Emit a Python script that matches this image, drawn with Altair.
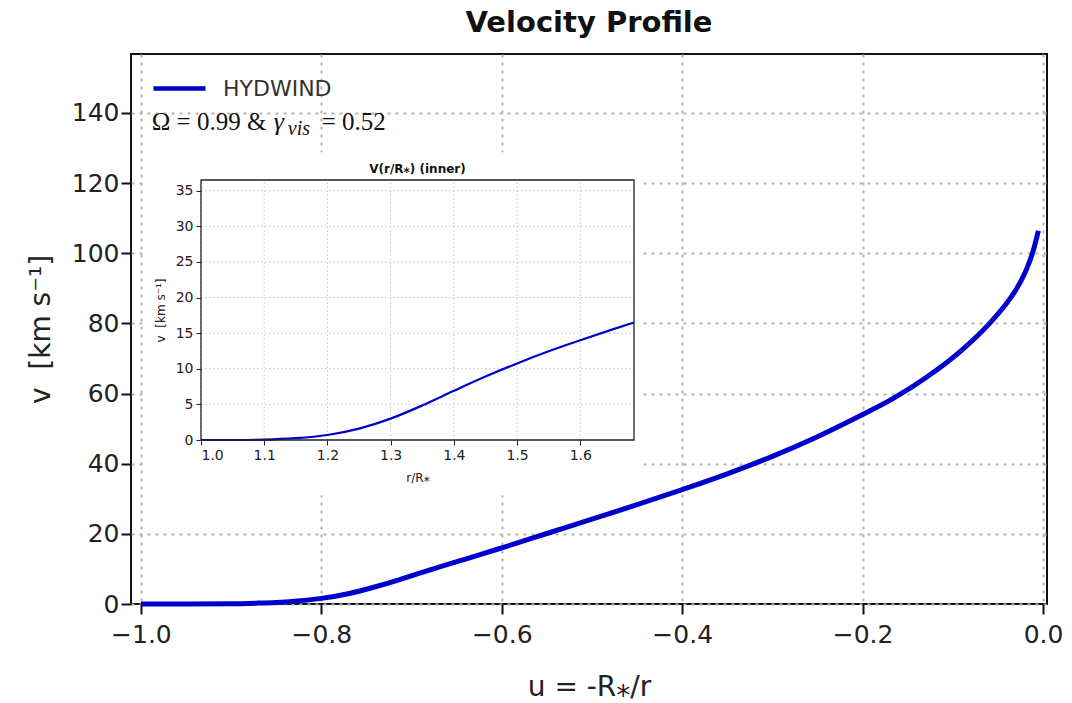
import altair as alt
import pandas as pd

# ---------------- data ----------------
series_name = "HYDWIND"

u_main = [-1.0, -0.95, -0.9, -0.87, -0.85, -0.833, -0.8, -0.769, -0.741, -0.714,
          -0.69, -0.667, -0.645, -0.625, -0.6, -0.55, -0.5, -0.45, -0.4, -0.35,
          -0.3, -0.25, -0.2, -0.166, -0.13, -0.09, -0.06, -0.037, -0.027, -0.018,
          -0.011, -0.0052]
v_main = [0.0, 0.0, 0.05, 0.25, 0.45, 0.7, 1.6, 3.0, 4.85, 6.9,
          8.9, 10.75, 12.45, 14.0, 16.0, 20.1, 24.2, 28.3, 32.6, 37.1,
          42.1, 47.7, 54.0, 58.6, 64.5, 72.4, 79.8, 86.9, 90.9, 95.6,
          100.6, 106.4]

r_inner = [1.0, 1.05, 1.1, 1.15, 1.2, 1.25, 1.3, 1.35, 1.4, 1.45, 1.5, 1.55, 1.6, 1.65, 1.685]
v_inner = [0.0, 0.0, 0.05, 0.25, 0.7, 1.6, 3.0, 4.85, 6.9, 8.9, 10.75, 12.45, 14.0, 15.5, 16.5]

main_x_domain = [-1.011, 0.0044]
main_y_domain = [0, 156.8]
main_x_ticks = [-1.0, -0.8, -0.6, -0.4, -0.2, 0.0]
main_y_ticks = [0, 20, 40, 60, 80, 100, 120, 140]

inset_x_domain = [1.0, 1.685]
inset_y_domain = [0, 36.5]
inset_x_ticks = [1.0, 1.1, 1.2, 1.3, 1.4, 1.5, 1.6]
inset_y_ticks = [0, 5, 10, 15, 20, 25, 30, 35]
# white panel behind the inset (covers its labels), in inset data units
inset_panel_x = [0.908, 1.697]
inset_panel_y = [-7.8, 40.4]

title_text = "Velocity Profile"
x_title = "u = -R⁎/r"
y_title = "v\u00a0\u00a0[km s⁻¹]"
inset_title = "V(r/R⁎) (inner)"
inset_x_title = "r/R⁎"
inset_y_title = "v\u00a0\u00a0[km s⁻¹]"
ann_pos = (-0.988, 135.2)

# ---------------- layout ----------------
W, H = 916, 550
INSET_RANGE_X = [70, 503]
INSET_RANGE_Y = [386, 126]
BLUE = "#0000cd"
SANS = "DejaVu Sans"
SERIF = "Liberation Serif"


def mxs():
    return alt.Scale(domain=main_x_domain, nice=False, zero=False)


def mys():
    return alt.Scale(domain=main_y_domain, nice=False, zero=False)


def ixs():
    return alt.Scale(domain=inset_x_domain, nice=False, zero=False, range=INSET_RANGE_X)


def iys():
    return alt.Scale(domain=inset_y_domain, nice=False, zero=False, range=INSET_RANGE_Y)


# ---------------- main panel ----------------
main_df = pd.DataFrame({"u": u_main, "v": v_main, "series": [series_name] * len(u_main)})

grid_style = dict(grid=True, gridColor="#b3b3b3", gridDash=[3, 5], gridWidth=2,
                  domain=False, tickColor="#111", tickWidth=2, tickSize=10,
                  labelFont=SANS, labelFontSize=25, labelColor="#222",
                  titleFont=SANS, titleFontSize=28, titleFontWeight="normal", titleColor="#222",
                  zindex=0)

main_line = alt.Chart(main_df).mark_line(strokeWidth=5, interpolate="monotone").encode(
    x=alt.X("u:Q", scale=mxs(),
            axis=alt.Axis(values=main_x_ticks, format=".1f", title=x_title, orient="bottom",
                          labelPadding=8, titlePadding=26, **grid_style)),
    y=alt.Y("v:Q", scale=mys(),
            axis=alt.Axis(values=main_y_ticks, format="d", title=y_title, orient="left",
                          labelPadding=2, titlePadding=16, **grid_style)),
    color=alt.Color("series:N",
                    scale=alt.Scale(domain=[series_name], range=[BLUE]),
                    legend=alt.Legend(title=None, orient="none", legendX=20, legendY=6,
                                      symbolType="stroke", symbolStrokeWidth=4.5,
                                      symbolSize=2700, labelFont=SANS, labelFontSize=22,
                                      labelColor="#333", labelOffset=15, padding=0)),
)

ann_df = pd.DataFrame({"u": [ann_pos[0]], "v": [ann_pos[1]]})
ann_parts = [
    ("Ω = 0.99 & ", 25, "normal", 0, 0),
    ("γ", 26, "italic", 122, 0),
    ("vis", 20, "italic", 136, 5),
    ("= 0.52", 25, "normal", 170, 0),
]
ann_layers = []
for txt, size, style, dx, dy in ann_parts:
    ann_layers.append(
        alt.Chart(ann_df).mark_text(text=txt, font=SERIF, fontSize=size, fontStyle=style,
                                    align="left", baseline="alphabetic", dx=dx, dy=dy,
                                    color="#111").encode(
            x=alt.X("u:Q", scale=mxs(), axis=None),
            y=alt.Y("v:Q", scale=mys(), axis=None),
        )
    )

title_df = pd.DataFrame({"u": [(main_x_domain[0] + main_x_domain[1]) / 2],
                         "v": [main_y_domain[1]]})
main_title = alt.Chart(title_df).mark_text(
    text=title_text, font=SANS, fontSize=29, fontWeight="bold", color="#111",
    align="center", baseline="alphabetic", dy=-22, clip=False).encode(
    x=alt.X("u:Q", scale=mxs(), axis=None),
    y=alt.Y("v:Q", scale=mys(), axis=None))

# ---------------- inset panel ----------------
panel = alt.Chart(pd.DataFrame({"x0": [inset_panel_x[0]], "x1": [inset_panel_x[1]],
                                "y0": [inset_panel_y[0]], "y1": [inset_panel_y[1]]})).mark_rect(
    fill="white", strokeWidth=0).encode(
    x=alt.X("x0:Q", scale=ixs(), axis=None), x2="x1:Q",
    y=alt.Y("y0:Q", scale=iys(), axis=None), y2="y1:Q")

vgrid_df = pd.DataFrame({"r": inset_x_ticks,
                         "y0": [inset_y_domain[0]] * len(inset_x_ticks),
                         "y1": [inset_y_domain[1]] * len(inset_x_ticks)})
vgrid = alt.Chart(vgrid_df).mark_rule(
    color="#c4c4c4", strokeDash=[1.5, 2.5], strokeWidth=1).encode(
    x=alt.X("r:Q", scale=ixs(), axis=None),
    y=alt.Y("y0:Q", scale=iys(), axis=None), y2="y1:Q")

hgrid_df = pd.DataFrame({"v": inset_y_ticks,
                         "x0": [inset_x_domain[0]] * len(inset_y_ticks),
                         "x1": [inset_x_domain[1]] * len(inset_y_ticks)})
hgrid = alt.Chart(hgrid_df).mark_rule(
    color="#c4c4c4", strokeDash=[1.5, 2.5], strokeWidth=1).encode(
    y=alt.Y("v:Q", scale=iys(), axis=None),
    x=alt.X("x0:Q", scale=ixs(), axis=None), x2="x1:Q")

inset_axis_style = dict(grid=False, domain=False, tickColor="#222", tickWidth=1, tickSize=5,
                        labelFont=SANS, labelFontSize=14, labelColor="#222",
                        titleFont=SANS, titleFontSize=12, titleFontWeight="normal",
                        titleColor="#222", zindex=2)

inset_line = alt.Chart(pd.DataFrame({"r": r_inner, "v": v_inner})).mark_line(
    color=BLUE, strokeWidth=2.2, interpolate="monotone").encode(
    x=alt.X("r:Q", scale=ixs(),
            axis=alt.Axis(values=inset_x_ticks, format=".1f", title=inset_x_title, orient="bottom",
                          offset=INSET_RANGE_Y[0] - H, labelPadding=3, titlePadding=10,
                          **inset_axis_style)),
    y=alt.Y("v:Q", scale=iys(),
            axis=alt.Axis(values=inset_y_ticks, format="d", title=inset_y_title, orient="left",
                          offset=-INSET_RANGE_X[0], labelPadding=3, titlePadding=8,
                          **inset_axis_style)),
)

frame = alt.Chart(pd.DataFrame({"x0": [inset_x_domain[0]], "x1": [inset_x_domain[1]],
                                "y0": [inset_y_domain[0]], "y1": [inset_y_domain[1]]})).mark_rect(
    fill="white", fillOpacity=0, stroke="#222", strokeWidth=1.3).encode(
    x=alt.X("x0:Q", scale=ixs(), axis=None), x2="x1:Q",
    y=alt.Y("y0:Q", scale=iys(), axis=None), y2="y1:Q")

ititle_df = pd.DataFrame({"r": [(inset_x_domain[0] + inset_x_domain[1]) / 2],
                          "v": [inset_y_domain[1]]})
ititle = alt.Chart(ititle_df).mark_text(
    text=inset_title, font=SANS, fontSize=12, fontWeight="bold", color="#111",
    align="center", baseline="alphabetic", dy=-7).encode(
    x=alt.X("r:Q", scale=ixs(), axis=None),
    y=alt.Y("v:Q", scale=iys(), axis=None))

chart = alt.layer(
    main_line, *ann_layers, main_title, panel, vgrid, hgrid, inset_line, frame, ititle
).resolve_scale(
    x="independent", y="independent"
).properties(
    width=W, height=H,
    padding={"left": 131, "top": 54, "right": 1072 - 131 - W, "bottom": 703 - 54 - H},
    autosize=alt.AutoSizeParams(type="none"),
).configure(background="white").configure_view(stroke="#111", strokeWidth=2)

chart.save("out.html", embed_options={"renderer": "svg", "actions": False})
